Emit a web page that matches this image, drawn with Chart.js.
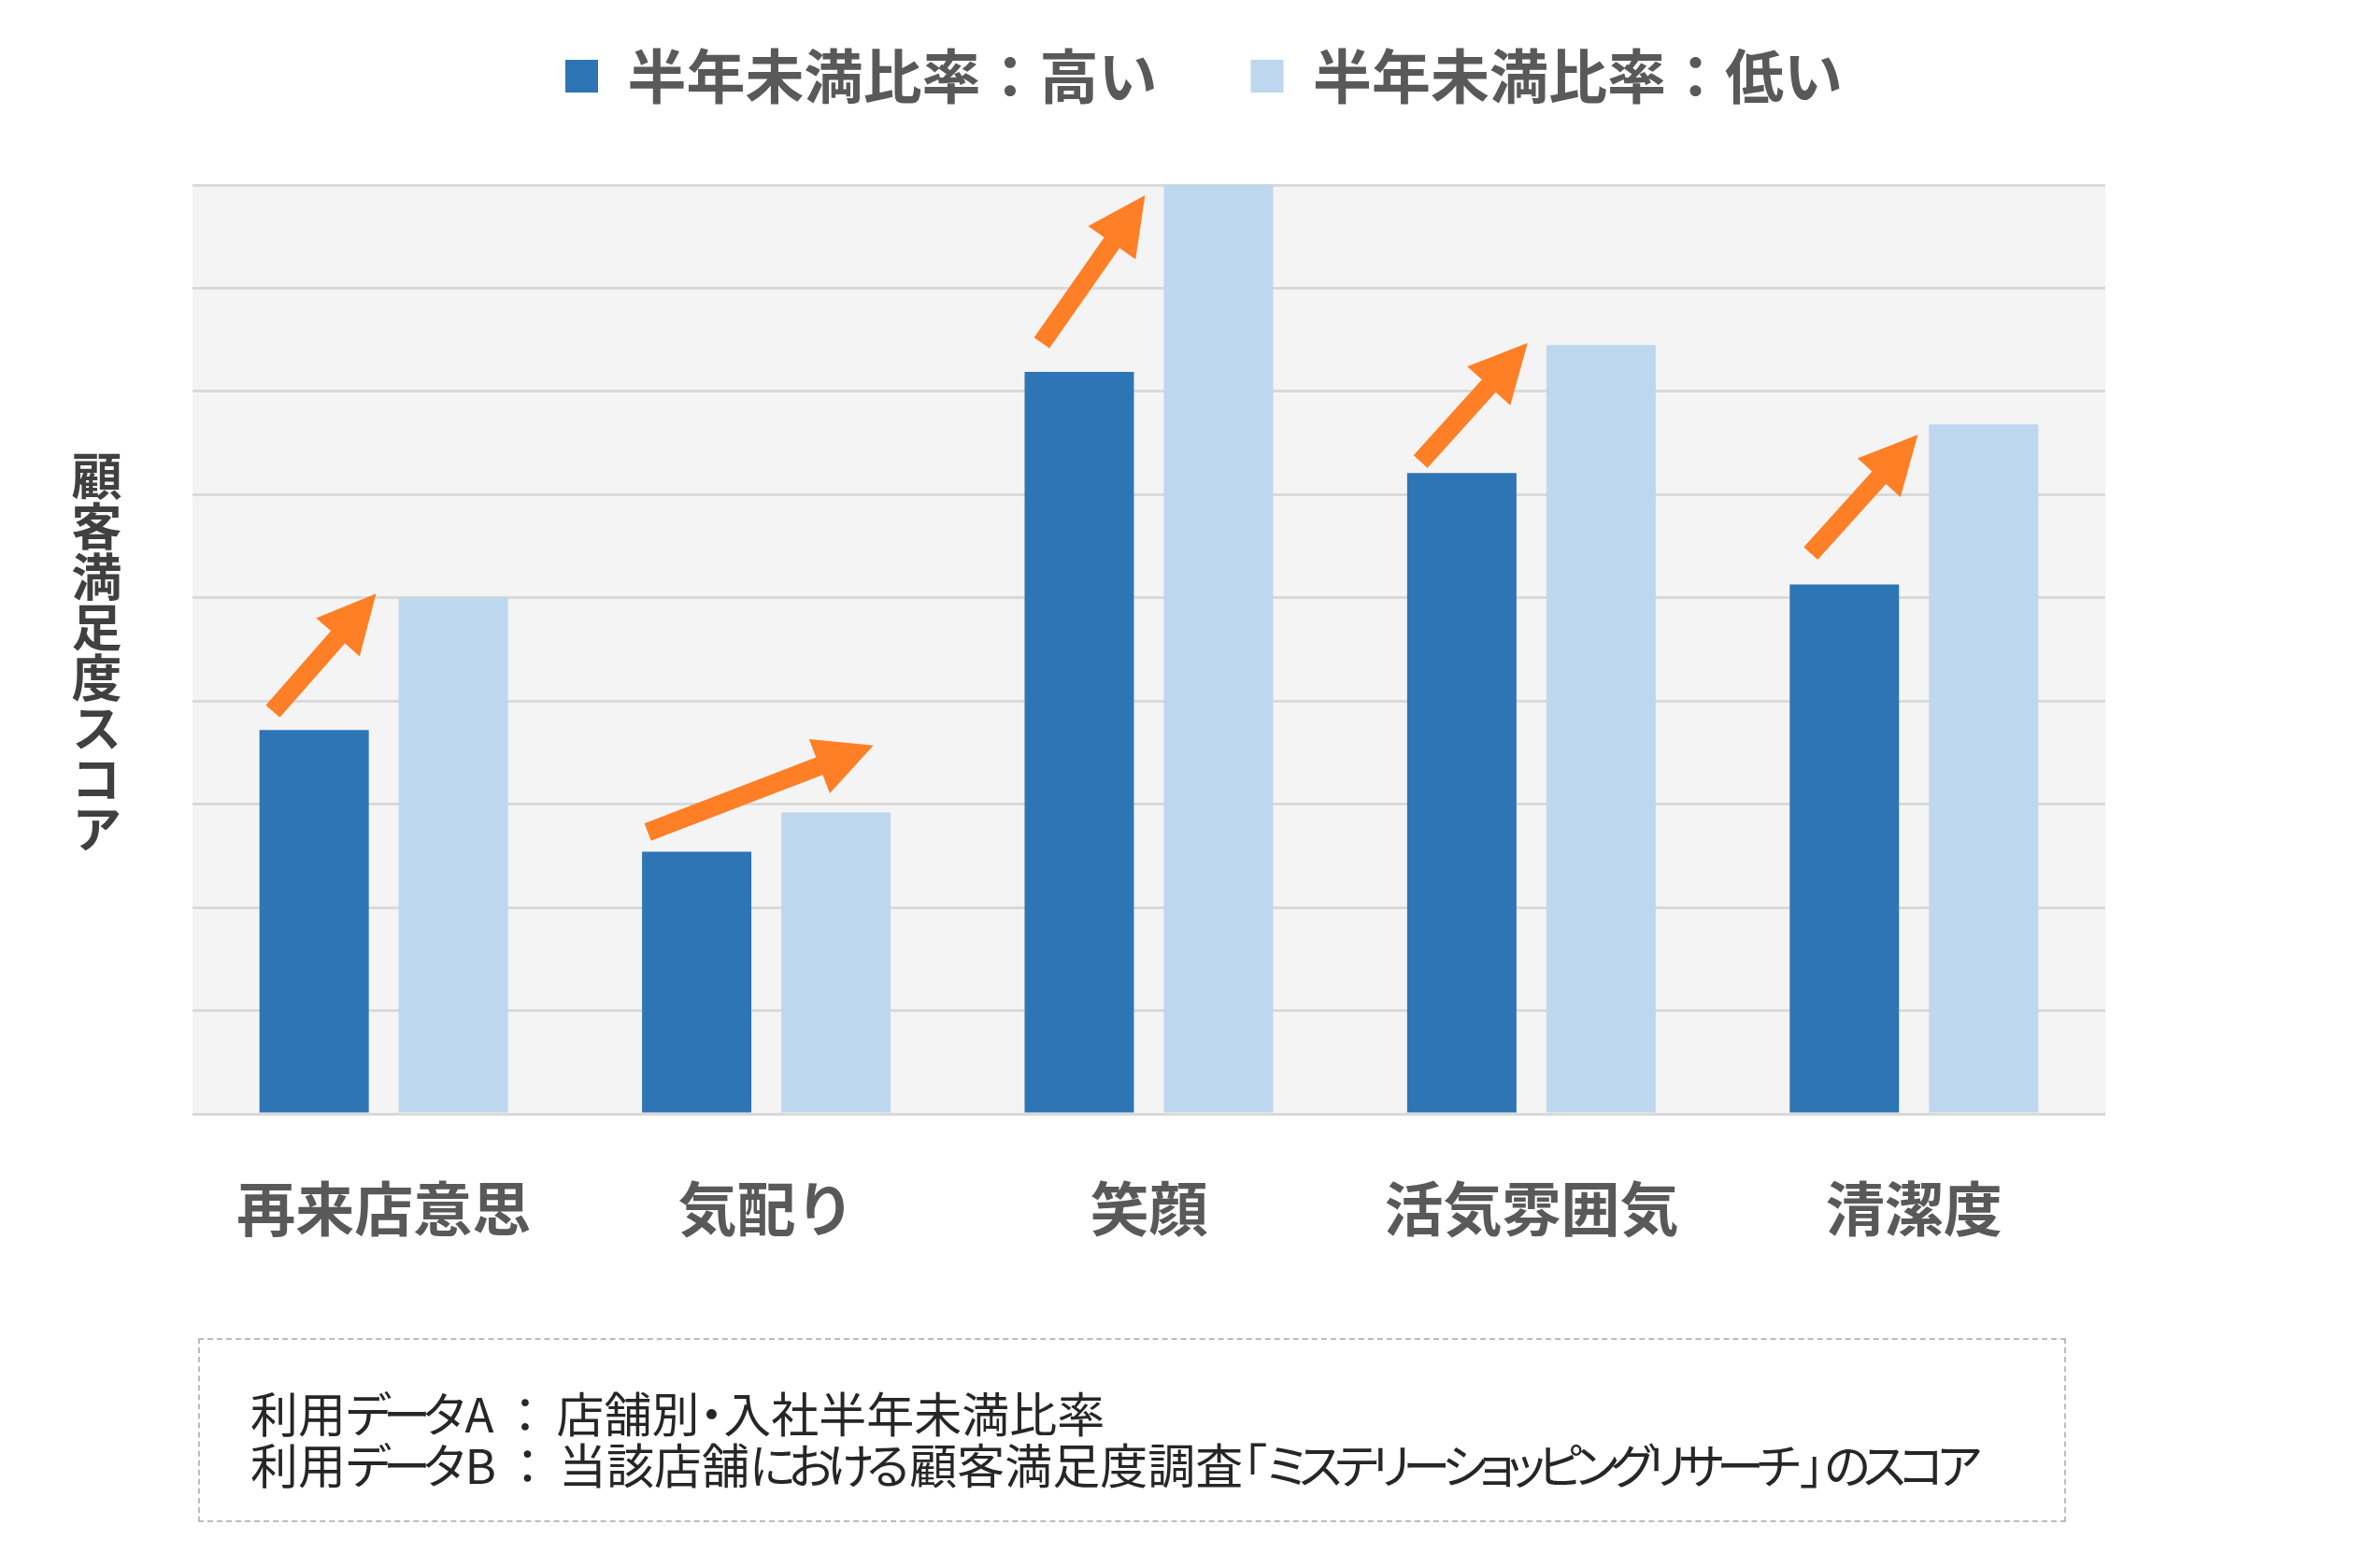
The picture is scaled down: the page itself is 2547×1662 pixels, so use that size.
<!DOCTYPE html>
<html lang="ja">
<head>
<meta charset="utf-8">
<title>顧客満足度スコア</title>
<script src="https://cdn.jsdelivr.net/npm/chart.js@4.4.1/dist/chart.umd.min.js"></script>
<style>
    html, body {
        margin: 0;
        padding: 0;
        background: #ffffff;
    }
    #wrap {
        position: relative;
        width: 2547px;
        height: 1662px;
        font-family: "Noto Sans CJK JP", "Noto Sans", sans-serif;
    }
    #chart {
        position: absolute;
        left: 0;
        top: 0;
    }
    #yTitle {
        position: absolute;
        left: 76px;
        top: 482px;
        width: 54px;
        writing-mode: vertical-rl;
        text-orientation: upright;
        font-size: 54px;
        line-height: 1;
        font-weight: bold;
        color: #404040;
    }
    #note {
        position: absolute;
        left: 212px;
        top: 1432px;
        width: 1995px;
        height: 193px;
        border: 2px dashed #bcbcbc;
        box-sizing: content-box;
    }
    #note div {
        position: absolute;
        left: 54px;
        font-size: 51px;
        line-height: 1;
        color: #262626;
        white-space: nowrap;
        font-feature-settings: "palt";
    }
    #note .kana {
        letter-spacing: -7.5px;
    }
    #note .colon {
        font-feature-settings: normal;
        margin: 0 8px;
    }
</style>
</head>
<body>
<div id="wrap">
    <canvas id="chart" width="2547" height="1662"></canvas>
    <div id="yTitle"></div>
    <div id="note"></div>
</div>
<script>
// Categories and the two series (score)
const categories = ['再来店意思', '気配り', '笑顔', '活気雰囲気', '清潔度'];
const seriesLabels = ['半年未満比率：高い', '半年未満比率：低い'];
const highRatioScores = [3.72, 2.54, 7.19, 6.21, 5.13];
const lowRatioScores = [5.0, 2.92, 9.0, 7.45, 6.68];
const yTicks = [0, 1, 2, 3, 4, 5, 6, 7, 8, 9];

// Arrow annotations: [category offset, score] for tail and tip, per category
const arrowTails = [[-0.29, 3.90], [-0.31, 2.73], [-0.28, 7.47], [-0.29, 6.32], [-0.27, 5.43]];
const arrowTips = [[-0.02, 5.04], [0.28, 3.57], [-0.01, 8.90], [-0.01, 7.47], [0.01, 6.58]];

const yTitle = '顧客満足度スコア';
const noteLines = [
    '利用データA：店舗別・入社半年未満比率',
    '利用データB：当該店舗における顧客満足度調査「ミステリーショッピングリサーチ」のスコア'
];

const colors = {
    high: '#2e75b6',
    low: '#bdd7ee',
    arrow: '#fe7f26',
    grid: '#d9d9d9',
    plotBg: '#f4f4f4',
    label: '#595959'
};

document.getElementById('yTitle').textContent = yTitle;

// Footnote: kana runs set a little tighter, the colon kept full width
const note = document.getElementById('note');
noteLines.forEach((line, i) => {
    const el = document.createElement('div');
    el.style.top = (52 + i * 55) + 'px';
    line.split(/([\u3041-\u30ff]+|：)/).forEach(part => {
        if (!part) return;
        if (part === '：') {
            const span = document.createElement('span');
            span.className = 'colon';
            span.textContent = part;
            el.appendChild(span);
        } else if (/^[\u3041-\u30ff]+$/.test(part)) {
            const span = document.createElement('span');
            span.className = 'kana';
            span.textContent = part.slice(0, -1);
            el.appendChild(span);
            el.appendChild(document.createTextNode(part.slice(-1)));
        } else {
            el.appendChild(document.createTextNode(part));
        }
    });
    note.appendChild(el);
});

Chart.defaults.font.family = '"Noto Sans CJK JP", "Noto Sans", sans-serif';

// Grey plot background
const plotBackground = {
    id: 'plotBackground',
    beforeDraw(chart) {
        const { ctx, chartArea } = chart;
        ctx.save();
        ctx.fillStyle = colors.plotBg;
        ctx.fillRect(chartArea.left, chartArea.top, chartArea.right - chartArea.left, chartArea.bottom - chartArea.top);
        ctx.restore();
    }
};

// Extra room under the legend
const legendSpacing = {
    id: 'legendSpacing',
    beforeInit(chart) {
        const fit = chart.legend.fit;
        chart.legend.fit = function () {
            fit.call(this);
            this.height += 75;
        };
    }
};

// Orange block arrows from the dark bar to the light bar
const trendArrows = {
    id: 'trendArrows',
    afterDatasetsDraw(chart) {
        const { ctx } = chart;
        const x = chart.scales.x;
        const y = chart.scales.y;
        const shaft = 10, head = 31, headLen = 62;
        ctx.save();
        ctx.fillStyle = colors.arrow;
        arrowTails.forEach((tail, i) => {
            const tip = arrowTips[i];
            const tx = x.getPixelForValue(i + tail[0]), ty = y.getPixelForValue(tail[1]);
            const px = x.getPixelForValue(i + tip[0]), py = y.getPixelForValue(tip[1]);
            const len = Math.hypot(px - tx, py - ty);
            const ux = (px - tx) / len, uy = (py - ty) / len;
            const nx = -uy, ny = ux;
            const bx = px - ux * headLen, by = py - uy * headLen;
            ctx.beginPath();
            ctx.moveTo(tx + nx * shaft, ty + ny * shaft);
            ctx.lineTo(bx + nx * shaft, by + ny * shaft);
            ctx.lineTo(bx + nx * head, by + ny * head);
            ctx.lineTo(px, py);
            ctx.lineTo(bx - nx * head, by - ny * head);
            ctx.lineTo(bx - nx * shaft, by - ny * shaft);
            ctx.lineTo(tx - nx * shaft, ty - ny * shaft);
            ctx.closePath();
            ctx.fill();
        });
        ctx.restore();
    }
};

new Chart(document.getElementById('chart'), {
    type: 'bar',
    data: {
        labels: categories,
        datasets: [
            {
                label: seriesLabels[0],
                data: highRatioScores,
                backgroundColor: colors.high,
                borderWidth: 0,
                categoryPercentage: 0.728,
                barPercentage: 0.785
            },
            {
                label: seriesLabels[1],
                data: lowRatioScores,
                backgroundColor: colors.low,
                borderWidth: 0,
                categoryPercentage: 0.728,
                barPercentage: 0.785
            }
        ]
    },
    options: {
        responsive: false,
        animation: false,
        devicePixelRatio: 1,
        layout: {
            padding: { top: -50, left: 30, right: 0, bottom: 0 }
        },
        plugins: {
            legend: {
                position: 'top',
                labels: {
                    boxWidth: 35,
                    boxHeight: 35,
                    padding: 100,
                    color: colors.label,
                    font: { size: 63, weight: 'bold' }
                }
            },
            tooltip: { enabled: false }
        },
        scales: {
            x: {
                grid: { display: false, drawTicks: false },
                border: { display: false },
                ticks: {
                    padding: 63,
                    color: colors.label,
                    font: { size: 63, weight: 'bold' }
                },
                afterFit(scale) {
                    scale.height = 470;
                }
            },
            y: {
                min: yTicks[0],
                max: yTicks[yTicks.length - 1],
                ticks: { display: false, stepSize: 1 },
                grid: { color: colors.grid, lineWidth: 3, drawTicks: false },
                border: { display: false },
                afterFit(scale) {
                    scale.width = 176;
                }
            },
            yRight: {
                type: 'linear',
                position: 'right',
                grid: { display: false, drawTicks: false },
                ticks: { display: false },
                border: { display: false },
                afterFit(scale) {
                    scale.width = 294;
                }
            }
        }
    },
    plugins: [plotBackground, legendSpacing, trendArrows]
});
</script>
</body>
</html>
